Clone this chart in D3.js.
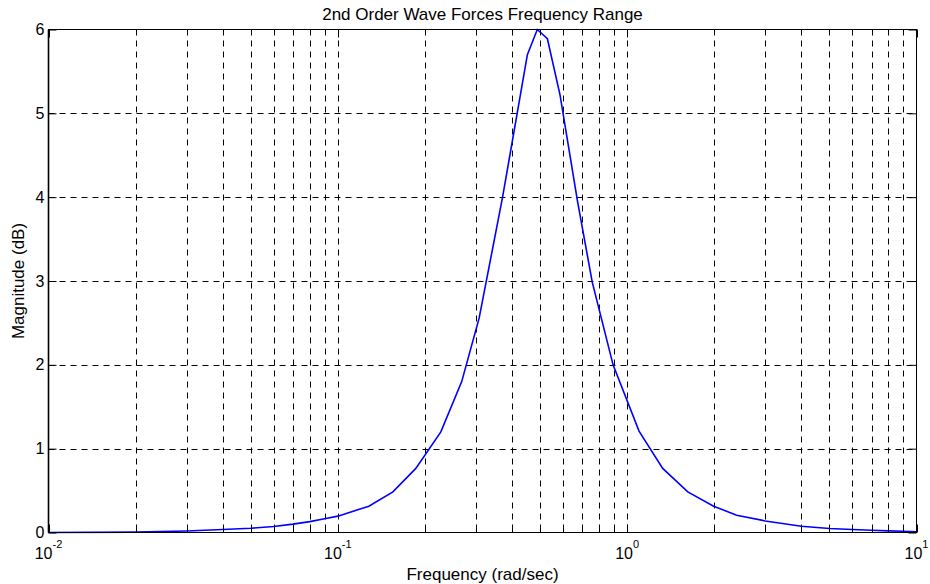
<!DOCTYPE html>
<html lang="en">
<head>
    <meta charset="UTF-8">
    <title>2nd Order Wave Forces Frequency Range</title>
    <script src="https://cdnjs.cloudflare.com/ajax/libs/d3/7.8.5/d3.min.js"></script>
    <style>
        body {
            margin: 0;
            background-color: #ffffff;
        }
        svg text {
            font-family: "Liberation Sans", Arial, sans-serif;
            fill: #000;
        }
        .grid line {
            stroke: #000;
            stroke-width: 1;
            stroke-dasharray: 6,5;
        }
        .axis path {
            display: none;
        }
        .axis line {
            stroke: #000;
        }
        .curve {
            fill: none;
            stroke: #0000ff;
            stroke-width: 1.6;
        }
    </style>
</head>
<body>
    <div id="chart"></div>

    <script>
        // frequency points (rad/sec) and magnitude
        const frequency = [0.01, 0.02, 0.03, 0.04, 0.05, 0.06, 0.07, 0.08, 0.09, 0.1,
            0.128, 0.155, 0.186, 0.227, 0.268, 0.308, 0.371, 0.452, 0.489, 0.530,
            0.586, 0.673, 0.757, 0.894, 1.099, 1.327, 1.62, 1.99, 2.39, 3.0,
            4, 5, 6, 7, 8, 9, 10];
        const magnitude = [0, 0.005, 0.018, 0.035, 0.05, 0.072, 0.1, 0.13, 0.165, 0.195,
            0.314, 0.484, 0.765, 1.2, 1.8, 2.56, 4.0, 5.7, 6.0, 5.89,
            5.22, 3.96, 2.99, 2.0, 1.21, 0.764, 0.484, 0.314, 0.206, 0.138,
            0.075, 0.048, 0.036, 0.027, 0.019, 0.015, 0.007];

        const xMajorExp = [-2, -1, 0, 1];
        const yTicks = [0, 1, 2, 3, 4, 5, 6];
        const titleText = "2nd Order Wave Forces Frequency Range";
        const xLabelText = "Frequency  (rad/sec)";
        const yLabelText = "Magnitude (dB)";

        const width = 930, height = 584;
        const plotL = 48.5, plotR = 916.5, plotT = 29.5, plotB = 532.5;

        const svg = d3.select("#chart").append("svg")
            .attr("width", width)
            .attr("height", height);

        const x = d3.scaleLog().domain([0.01, 10]).range([plotL, plotR]);
        const y = d3.scaleLinear().domain([0, 6]).range([plotB, plotT]);

        // all log ticks: decades plus 2..9 in each
        const allX = [];
        for (let e = -2; e < 1; e++) {
            for (let k = 1; k <= 9; k++) allX.push(k * Math.pow(10, e));
        }
        allX.push(10);
        const innerX = allX.filter(v => v > 0.0101 && v < 9.99);

        // dashed grid
        const grid = svg.append("g").attr("class", "grid");
        grid.selectAll(".gx")
            .data(innerX)
            .enter().append("line")
            .attr("x1", d => Math.round(x(d)) + 0.5)
            .attr("x2", d => Math.round(x(d)) + 0.5)
            .attr("y1", plotT)
            .attr("y2", plotB);
        grid.selectAll(".gy")
            .data(yTicks.filter(d => d > 0 && d < 6))
            .enter().append("line")
            .attr("x1", plotL)
            .attr("x2", plotR)
            .attr("y1", d => Math.round(y(d)) + 0.5)
            .attr("y2", d => Math.round(y(d)) + 0.5);

        // curve
        const line = d3.line()
            .x((d, i) => x(frequency[i]))
            .y(d => y(d));
        svg.append("path")
            .attr("class", "curve")
            .attr("d", line(magnitude));

        // inward ticks on top and bottom
        const xMajor = xMajorExp.map(e => Math.pow(10, e));
        const minorX = allX.filter(v => !xMajor.some(m => Math.abs(m - v) < 1e-9));

        function xAxis(g, pos, dir) {
            g.selectAll(".maj")
                .data(xMajor)
                .enter().append("line")
                .attr("x1", d => Math.round(x(d)) + 0.5).attr("x2", d => Math.round(x(d)) + 0.5)
                .attr("y1", pos).attr("y2", pos + dir * 8)
                .attr("stroke", "#000");
            g.selectAll(".min")
                .data(minorX)
                .enter().append("line")
                .attr("x1", d => Math.round(x(d)) + 0.5).attr("x2", d => Math.round(x(d)) + 0.5)
                .attr("y1", pos).attr("y2", pos + dir * 4)
                .attr("stroke", "#000");
        }
        xAxis(svg.append("g"), plotB, -1);
        xAxis(svg.append("g"), plotT, 1);

        svg.append("g")
            .attr("class", "axis")
            .attr("transform", `translate(${plotL},0)`)
            .call(d3.axisLeft(y).tickValues(yTicks).tickSize(-8).tickPadding(4).tickFormat(d3.format("d")))
            .call(g => g.selectAll("text")
                .style("font-family", '"Liberation Sans", Arial, sans-serif')
                .style("font-size", "16px"));

        svg.append("g")
            .attr("class", "axis")
            .attr("transform", `translate(${plotR},0)`)
            .call(d3.axisRight(y).tickValues(yTicks).tickSize(-8).tickFormat(""));

        // box
        svg.append("rect")
            .attr("x", plotL)
            .attr("y", plotT)
            .attr("width", plotR - plotL)
            .attr("height", plotB - plotT)
            .attr("fill", "none")
            .attr("stroke", "#000")
            .attr("stroke-width", 1);
        svg.append("line")
            .attr("x1", plotL).attr("x2", plotL)
            .attr("y1", plotT).attr("y2", plotB)
            .attr("stroke", "#000")
            .attr("stroke-width", 1.6);

        // x tick labels 10^n
        const xl = svg.append("g");
        xMajorExp.forEach(e => {
            const t = xl.append("text")
                .attr("x", x(Math.pow(10, e)))
                .attr("y", plotB + 26)
                .attr("text-anchor", "middle")
                .style("font-size", "16px");
            t.append("tspan").text("10");
            t.append("tspan")
                .attr("dy", -11)
                .style("font-size", "11px")
                .text(String(e));
        });

        // title and axis labels
        svg.append("text")
            .attr("x", (plotL + plotR) / 2)
            .attr("y", 20)
            .attr("text-anchor", "middle")
            .style("font-size", "17px")
            .text(titleText);

        svg.append("text")
            .attr("x", (plotL + plotR) / 2)
            .attr("y", 580)
            .attr("text-anchor", "middle")
            .style("font-size", "17px")
            .text(xLabelText);

        svg.append("text")
            .attr("transform", `translate(24,${(plotT + plotB) / 2}) rotate(-90)`)
            .attr("text-anchor", "middle")
            .style("font-size", "17px")
            .text(yLabelText);
    </script>
</body>
</html>
